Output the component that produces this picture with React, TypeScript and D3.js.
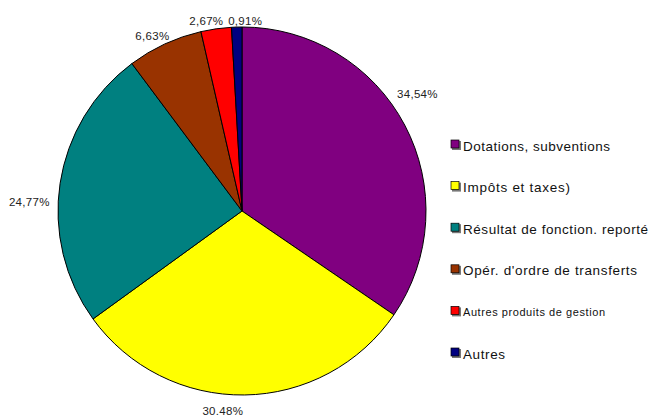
import { useEffect, useRef } from "react";
import * as d3 from "d3";

// Recettes de fonctionnement (parts in %)
const categories = [
  "Dotations, subventions",
  "Impôts et taxes)",
  "Résultat de fonction. reporté",
  "Opér. d'ordre de transferts",
  "Autres produits de gestion",
  "Autres",
];
const values = [34.54, 30.48, 24.77, 6.63, 2.67, 0.91];
const valueLabels = ["34,54%", "30.48%", "24,77%", "6,63%", "2,67%", "0,91%"];
const colors = ["#800080", "#FFFF00", "#008080", "#993300", "#FF0000", "#000080"];

// small pushes so the outside labels don't collide (like the original)
const labelNudge: [number, number][] = [
  [-5, -21],
  [-22, -3],
  [-11, 23],
  [-4, 11],
  [-7, 13],
  [9, 15],
];
// legend text widths as drawn in the source
const legendWidths = [147, 107, 185, 174, 142, 42];
const legendSizes = [13.5, 13.5, 13.5, 13.5, 11, 13.5];

export default function App() {
  const svgRef = useRef<SVGSVGElement>(null);
  const width = 651;
  const height = 416;

  useEffect(() => {
    if (!svgRef.current) return;
    const svg = d3.select(svgRef.current);
    svg.selectAll("*").remove();

    const cx = 242;
    const cy = 211;
    const r = 184;

    const pie = d3
      .pie<number>()
      .sort(null)
      .value((d) => d);
    const arcs = pie(values);
    const arc = d3.arc<d3.PieArcDatum<number>>().innerRadius(0).outerRadius(r);

    const g = svg.append("g").attr("transform", `translate(${cx},${cy})`);

    g.selectAll("path")
      .data(arcs)
      .enter()
      .append("path")
      .attr("d", arc)
      .attr("fill", (_, i) => colors[i])
      .attr("stroke", "#000")
      .attr("stroke-width", 1);

    // percentage labels outside
    const R = r + 20;
    g.selectAll("text.pct")
      .data(arcs)
      .enter()
      .append("text")
      .attr("class", "pct")
      .attr("x", (d, i) => R * Math.sin((d.startAngle + d.endAngle) / 2) + labelNudge[i][0])
      .attr("y", (d, i) => -R * Math.cos((d.startAngle + d.endAngle) / 2) + labelNudge[i][1])
      .attr("text-anchor", "middle")
      .attr("dominant-baseline", "middle")
      .attr("font-family", "'Liberation Sans', Arial, sans-serif")
      .attr("font-size", 11.5)
      .attr("letter-spacing", 0.3)
      .attr("fill", "#222")
      .text((_, i) => valueLabels[i]);

    // legend
    const ly = d3
      .scalePoint<number>()
      .domain(d3.range(categories.length))
      .range([147, 355]);

    const leg = svg
      .selectAll("g.leg")
      .data(categories)
      .enter()
      .append("g")
      .attr("class", "leg")
      .attr("transform", (_, i) => `translate(451,${ly(i)})`);

    leg
      .append("rect")
      .attr("x", 1)
      .attr("y", -6)
      .attr("width", 9)
      .attr("height", 9)
      .attr("fill", "#777");
    leg
      .append("rect")
      .attr("x", 0)
      .attr("y", -7)
      .attr("width", 8)
      .attr("height", 8)
      .attr("fill", (_, i) => colors[i])
      .attr("stroke", "#000")
      .attr("stroke-width", 0.7);

    leg
      .append("text")
      .attr("x", 12)
      .attr("y", 0)
      .attr("dominant-baseline", "middle")
      .attr("font-family", "'Liberation Sans', Arial, sans-serif")
      .attr("font-size", (_, i) => legendSizes[i])
      .attr("textLength", (_, i) => legendWidths[i])
      .attr("lengthAdjust", "spacing")
      .attr("fill", "#111")
      .text((d) => d);
  }, []);

  return (
    <svg
      ref={svgRef}
      width={width}
      height={height}
      style={{ position: "absolute", left: 0, top: 0, background: "#fff" }}
    />
  );
}
